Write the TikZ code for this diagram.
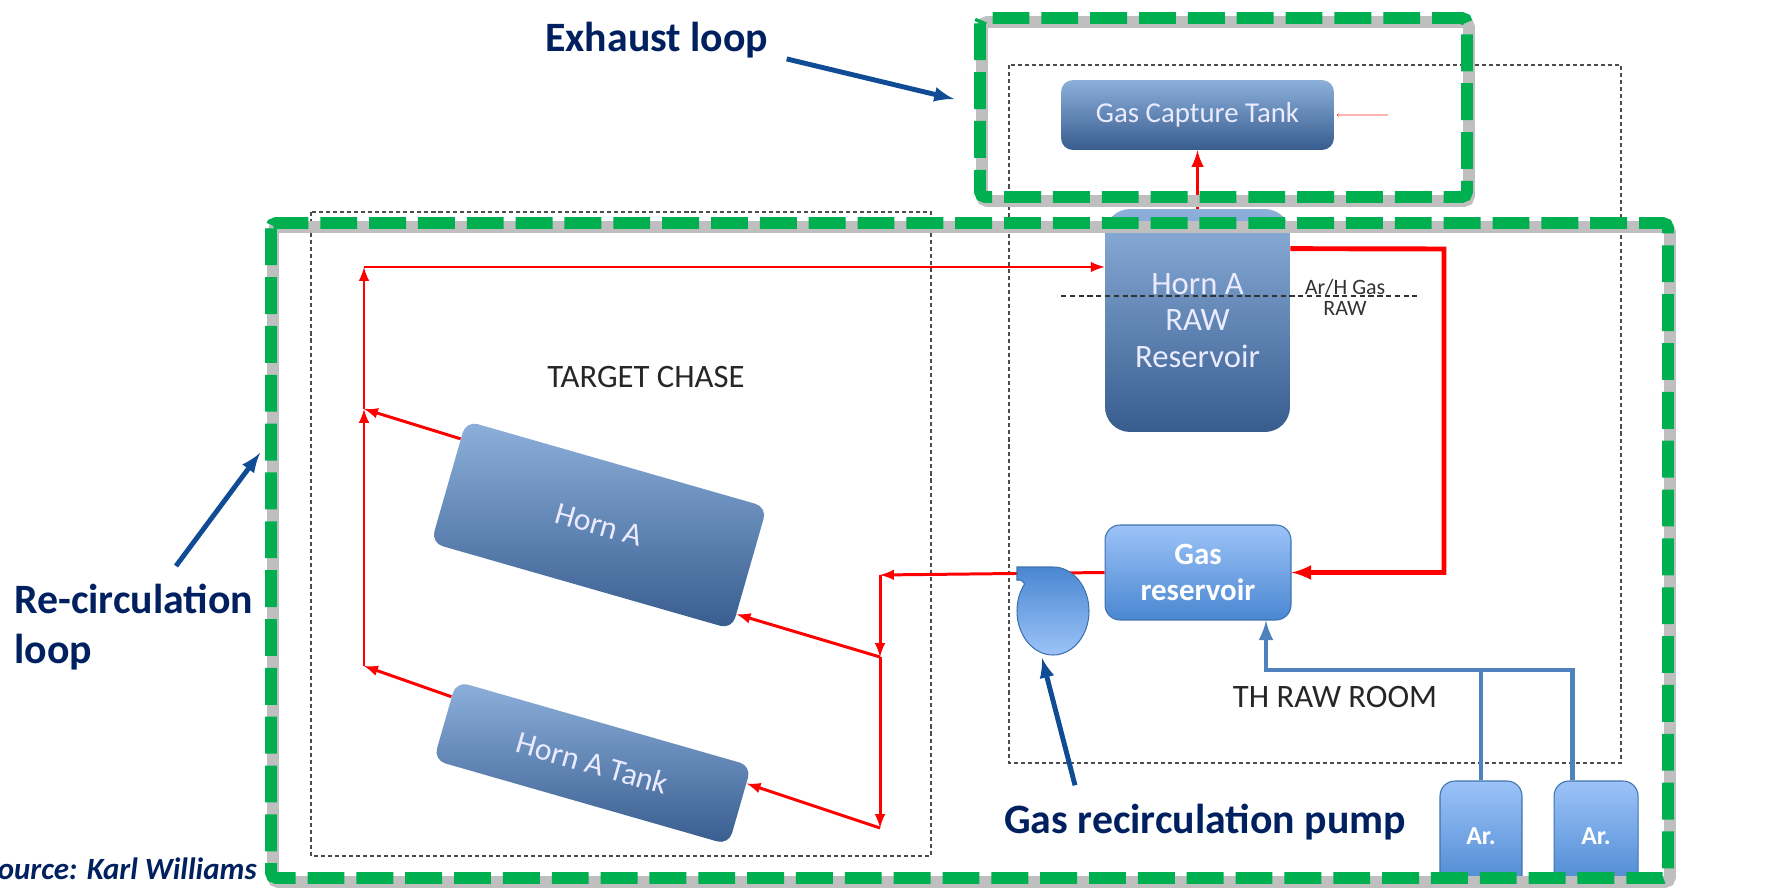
\documentclass[tikz,border=0pt]{standalone}
\usepackage{fontspec}
\setmainfont{Carlito}
\usetikzlibrary{positioning,calc}
\definecolor{labelnavy}{HTML}{002060}
\definecolor{arrowblue}{HTML}{104C96}
\definecolor{loopgreen}{HTML}{00B050}
\definecolor{pipeblue}{HTML}{4F81BD}
\definecolor{tankdark}{HTML}{375C8E}
\definecolor{tanklight}{HTML}{8DB0DB}
\definecolor{boxlight}{HTML}{9CC3F8}
\definecolor{boxmid}{HTML}{4A87D1}
\definecolor{boxedge}{HTML}{3F72AE}
\definecolor{flowred}{HTML}{FF0000}

\tikzset{
  tank/.style={rounded corners=0.24cm, top color=tanklight, bottom color=tankdark,
    text=white!92!blue, align=center, inner sep=0pt},
  lightbox/.style={draw=boxedge, line width=0.6pt, rounded corners=0.3cm,
    top color=boxlight, bottom color=boxmid, text=white, align=center, inner sep=0pt},
  room/.style={draw=black!70, dash pattern=on 2.3pt off 1.7pt, line width=0.8pt},
  loopbox/.style={draw=loopgreen, line width=6.8pt, dash pattern=on 21pt off 6.8pt, rounded corners=3pt},
  loopshadow/.style={draw=black!25, line width=6.8pt, rounded corners=3pt},
  flow/.style={draw=flowred, line width=1.7pt},
  pipeline/.style={draw=pipeblue, line width=2.8pt},
  tag/.style={font=\bfseries\fontsize{23.8}{28.3}\selectfont, text=labelnavy, inner sep=0pt},
  pointer/.style={draw=arrowblue, line width=2.8pt, -latex},
}

\begin{document}
\begin{tikzpicture}[x=0.02cm, y=-0.02cm]
    \useasboundingbox (0,0) rectangle (1785,888);

    % rooms
    \draw[room] (311,212) rectangle (931,856);
    \draw[room] (1009,65) rectangle (1621,763);
    \node[font=\fontsize{18.6}{20}\selectfont, text=black!85] (chase) at (646,377) {TARGET CHASE};
    \node[font=\fontsize{18.6}{20}\selectfont, text=black!85] (room) at (1335,697) {TH RAW ROOM};

    % tanks and reservoirs
    \node[tank, minimum width=5.46cm, minimum height=1.4cm, font=\fontsize{16.4}{19}\selectfont] (capture) at (1197.5,115) {Gas Capture Tank};
    \node[tank, rounded corners=0.5cm, minimum width=3.7cm, minimum height=4.46cm, font=\fontsize{18.6}{20.7}\selectfont] (rawres) at (1197.5,320.5) {Horn A\\RAW\\Reservoir};
    \node[lightbox, minimum width=3.72cm, minimum height=1.9cm, font=\bfseries\fontsize{17.6}{21}\selectfont] (gasres) at (1198,572.5) {Gas\\reservoir};
    \node[tank, rotate=-16, minimum width=6.26cm, minimum height=2.54cm, font=\fontsize{18}{20}\selectfont] (hornA) at (599,525) {Horn A};
    \node[tank, rotate=-16, minimum width=6.14cm, minimum height=1.64cm, font=\fontsize{18}{20}\selectfont] (tank) at (592.5,763) {Horn A Tank};
    \node[lightbox, minimum width=1.64cm, minimum height=2.2cm, font=\bfseries\fontsize{14.7}{17}\selectfont] (ar1) at (1481,836) {Ar.};
    \node[lightbox, minimum width=1.68cm, minimum height=2.2cm, font=\bfseries\fontsize{14.7}{17}\selectfont] (ar2) [right=0.62cm of ar1] {Ar.};
    \draw[black!80, line width=0.7pt, dash pattern=on 3pt off 2pt] (1061,296) -- (1417,296);
    \node[font=\fontsize{12.5}{12}\selectfont, text=black!80, align=center, inner sep=0pt] (gaslbl) at (1345,297) {Ar/H Gas\\RAW};

    \coordinate (topleft) at (364,267);
    \coordinate (midleft) at (364,409);
    \coordinate (lowleft) at (364,666);
    \coordinate (split) at (880,575);
    \coordinate (midright) at (880,657);
    \coordinate (lowright) at (880,828);
    \coordinate (bend) at (1444,249);
    \coordinate (pipe) at (1266,670);

    % gas flow
    \draw[flow, line width=2.2pt, -latex] (rawres.north) -- (capture.south);
    \fill[red] ([xshift=0.08cm]capture.east) circle (1.5);
    \draw[red!30, line width=0.8pt] ([xshift=0.08cm]capture.east) -- ++(50,0);
    \draw[flow, line width=2.8pt, -latex] ([yshift=-0.8cm]rawres.north east) -- (bend) |- (gasres.east);
    \draw[flow, -latex] (gasres.west) -- (split);
    \draw[flow, -latex] (split) -- (midright);
    \draw[flow, -latex] (midright) -- (lowright);
    \draw[flow, -latex] (midright) -- ($(hornA.east)!0.75!(hornA.south east)$);
    \draw[flow, -latex] (lowright) -- ($(tank.north east)!0.45!(tank.east)$);
    \draw[flow, -latex] ($(hornA.north west)!0.3!(hornA.west)$) -- (midleft);
    \draw[flow, -latex] ($(tank.north west)!0.4!(tank.west)$) -- (lowleft);
    \draw[flow, -latex] (lowleft) -- (midleft);
    \draw[flow, -latex] (midleft) -- (topleft);
    \draw[flow, -latex] (topleft) -- (rawres.west |- topleft);

    % pump
    \filldraw[draw=boxedge, line width=0.6pt, top color=boxmid, bottom color=boxlight]
      (1017,567) -- (1053,567) arc[start angle=-90, end angle=218, x radius=36, y radius=44]
      -- (1021,580) -- (1017,580) -- cycle;
    \coordinate (pump) at (1042,658);

    % argon supply
    \draw[pipeline, -latex] ([xshift=-0.48cm]ar2.north) |- (pipe) -- (gasres.south -| pipe);
    \draw[pipeline] (ar1.north) -- (ar1.north |- pipe);

    % loops
    \draw[loopshadow] (982,22) rectangle (1469,201);
    \draw[loopbox] (980,18) rectangle (1467,197);
    \draw[loopshadow] (273,227) rectangle (1670,882);
    \draw[loopbox] (271,223) rectangle (1668,878);

    % labels
    \node[tag, anchor=base west] (exhaust) at (545,52) {Exhaust loop};
    \coordinate (exhausttip) at (954,99);
    \draw[pointer] ([xshift=0.36cm]exhaust.south east) -- (exhausttip);

    \node[tag, align=left, anchor=north west] (recirc) at (14,584) {Re-circulation\\loop};
    \coordinate (recirctip) at (260,453);
    \draw[pointer] (176,566) -- (recirctip);

    \node[tag, anchor=base west] (pumplbl) at (1004,833) {Gas recirculation pump};
    \draw[pointer] ([shift={(71,-18)}]pumplbl.north west) -- (pump);

    \node[font=\bfseries\itshape\fontsize{17.6}{20}\selectfont, text=labelnavy, anchor=base east, inner sep=0pt] (source) at (257,879) {Source: Karl Williams};
\end{tikzpicture}
\end{document}
